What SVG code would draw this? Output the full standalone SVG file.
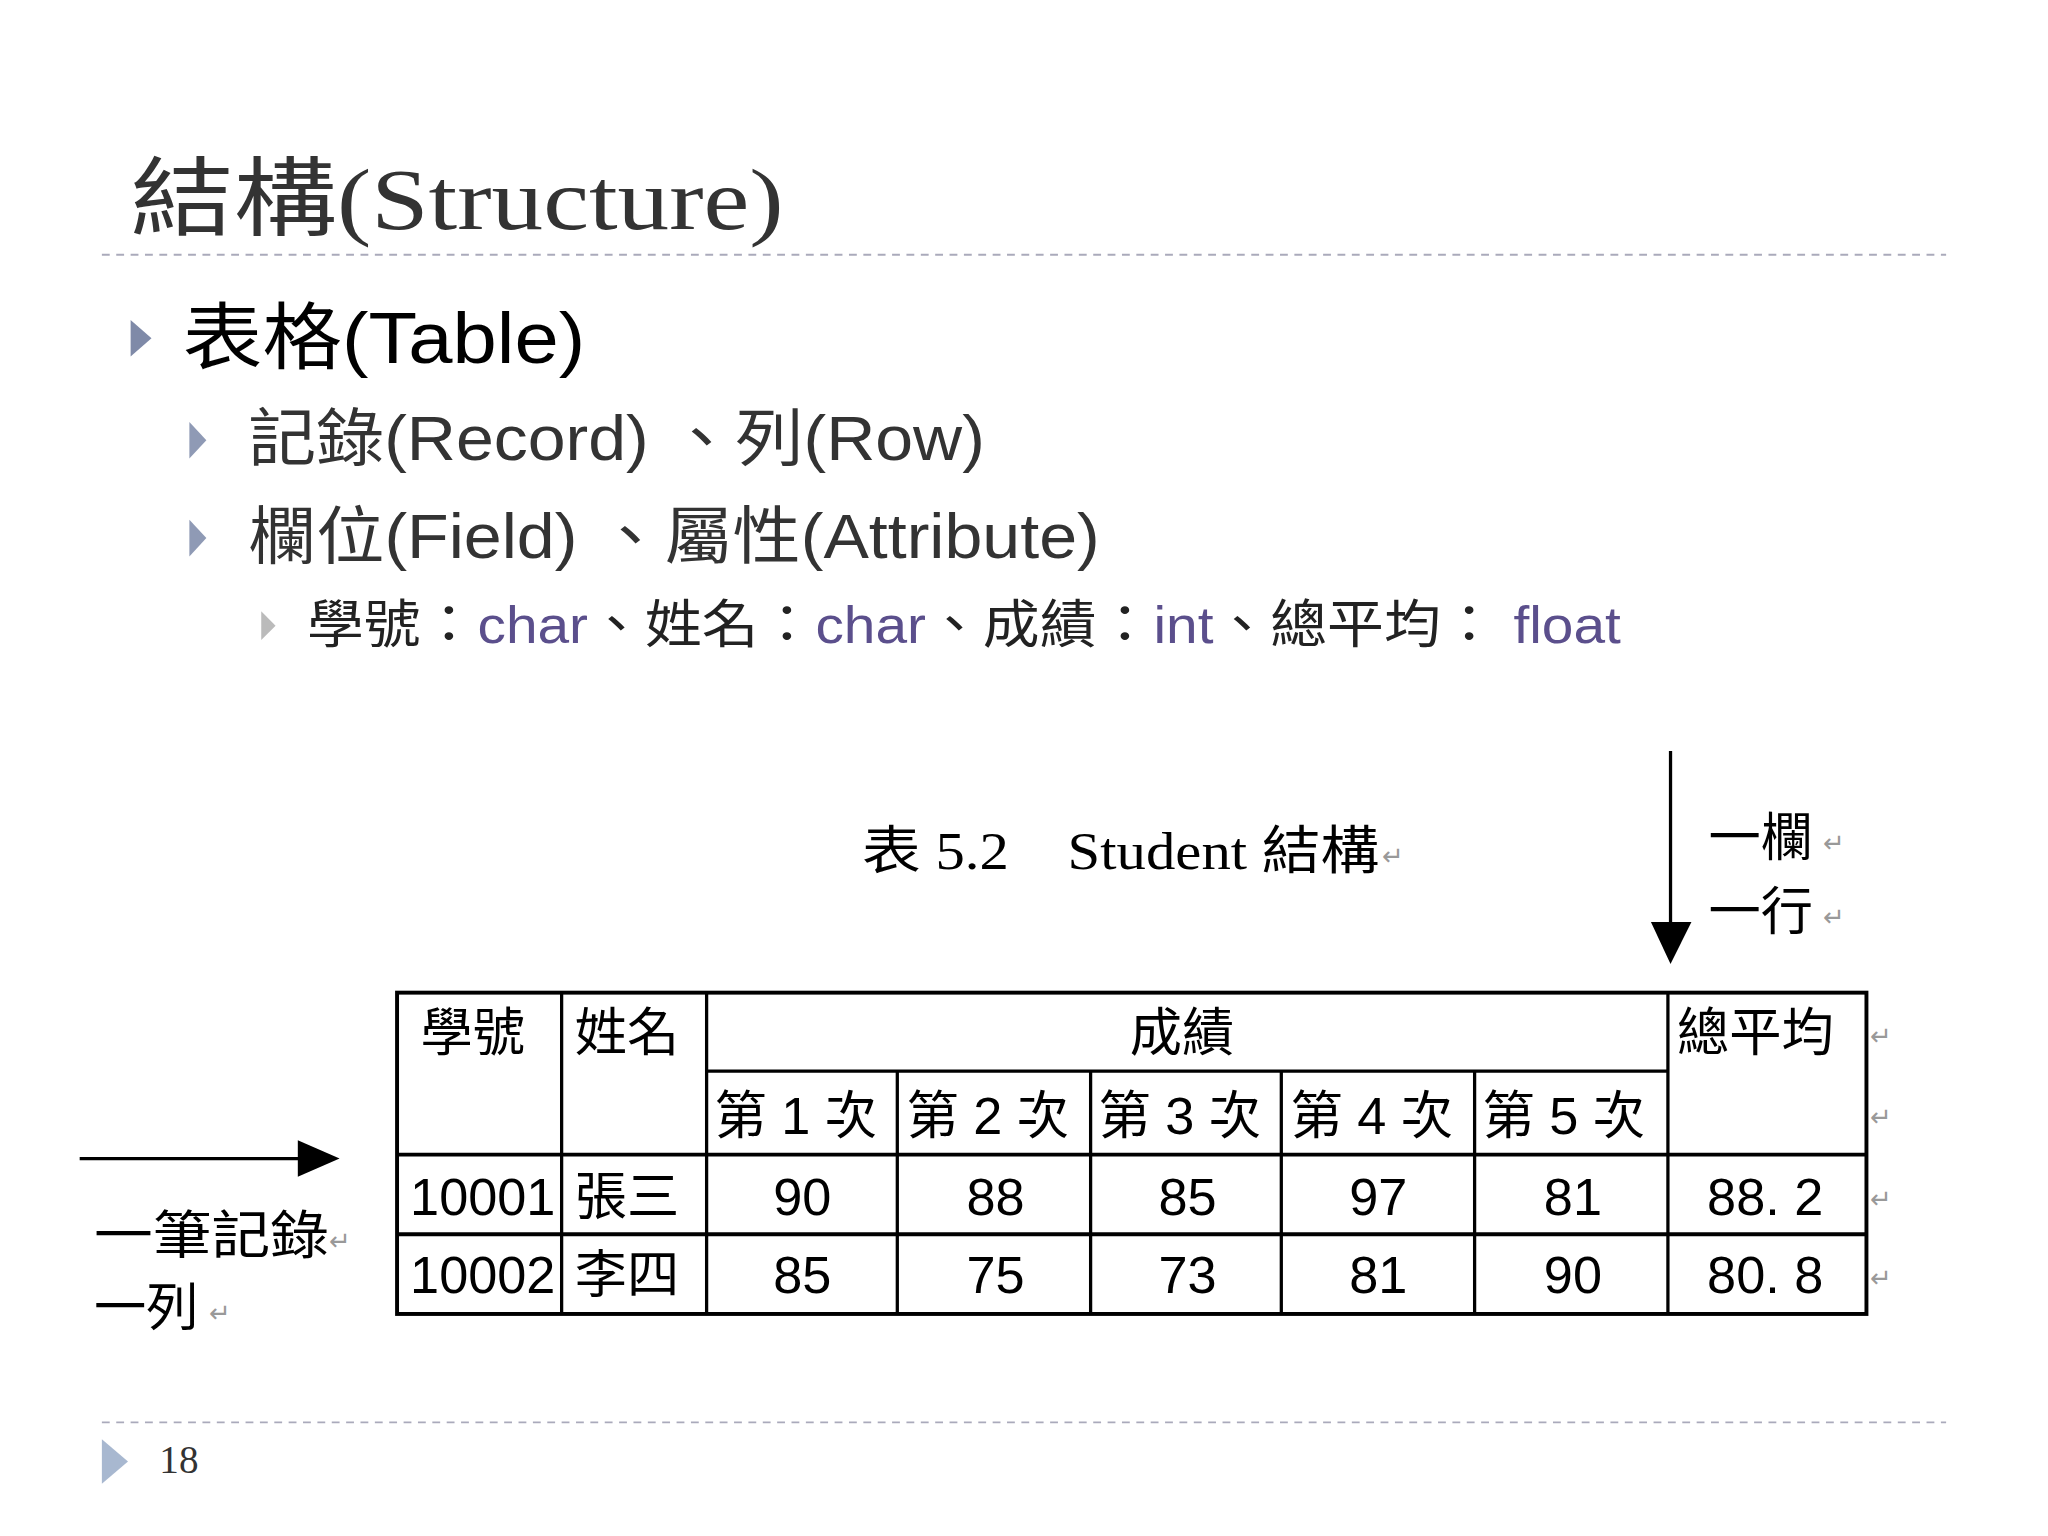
<svg xmlns="http://www.w3.org/2000/svg" width="2048" height="1536" viewBox="0 0 2048 1536">
<style>
.t{font-family:"Liberation Sans","Noto Sans CJK TC",sans-serif}
.s{font-family:"Liberation Serif","Noto Sans CJK TC",serif}
.c{font-family:"Liberation Sans","Noto Sans CJK TC",sans-serif;font-size:40px;fill:#000}
.r{font-family:"Liberation Sans",sans-serif;font-size:20px;fill:#999}
.p{fill:#5b4f8c}
.g line{stroke:#000;stroke-width:2.5}
</style>
<rect width="2048" height="1536" fill="#fff"/>
<g transform="scale(1.30612)">
<g id="title"><text class="s" x="100" y="175" font-size="66" fill="#333" textLength="500" lengthAdjust="spacingAndGlyphs">結構(Structure)</text>
<line x1="78" y1="195" x2="1490" y2="195" stroke="#aab" stroke-width="1.5" stroke-dasharray="6,5"/></g>
<g id="bullets">
<polygon points="100,245 116,259 100,273" fill="#7f8aa8"/>
<text class="t" x="140" y="278" font-size="56" fill="#000" textLength="308" lengthAdjust="spacingAndGlyphs">表格(Table)</text>
<polygon points="145,323 158,337 145,351" fill="#8f9ab5"/>
<text class="t" x="190" y="352" font-size="48" fill="#333" textLength="564" lengthAdjust="spacingAndGlyphs">記錄(Record) 、列(Row)</text>
<polygon points="145,398 158,412 145,426" fill="#8f9ab5"/>
<text class="t" x="190" y="427" font-size="48" fill="#333" textLength="652" lengthAdjust="spacingAndGlyphs">欄位(Field) 、屬性(Attribute)</text>
<polygon points="200,468 211,479 200,490" fill="#bbb"/>
<text class="t" x="235" y="492" font-size="40" fill="#222" textLength="1006" lengthAdjust="spacingAndGlyphs">學號：<tspan class="p">char</tspan>、姓名：<tspan class="p">char</tspan>、成績：<tspan class="p">int</tspan>、總平均： <tspan class="p">float</tspan></text>
</g>
<g id="caption"><text class="s" x="660" y="665" font-size="40" fill="#000" textLength="396" lengthAdjust="spacingAndGlyphs">表 5.2　Student 結構</text><text class="r" x="1058" y="662">↵</text></g>
<g id="labels">
<text class="c" x="1308" y="655" font-size="42">一欄</text><text class="r" x="1396" y="652">↵</text>
<text class="c" x="1308" y="712" font-size="42">一行</text><text class="r" x="1396" y="709">↵</text>
<text class="c" x="72" y="960" font-size="44" textLength="180" lengthAdjust="spacingAndGlyphs">一筆記錄</text><text class="r" x="252" y="957">↵</text>
<text class="c" x="72" y="1015" font-size="44">一列</text><text class="r" x="160" y="1012">↵</text>
</g>
<g id="connectors">
<line x1="1279" y1="575" x2="1279" y2="710" stroke="#000" stroke-width="2.5"/>
<polygon points="1264,706 1295,706 1279,738" fill="#000"/>
<line x1="61" y1="887" x2="232" y2="887" stroke="#000" stroke-width="2.5"/>
<polygon points="228,873 260,887 228,901" fill="#000"/>
</g>
<g id="table" class="g">
<rect x="304" y="760" width="1125" height="246" fill="#fff" stroke="#000" stroke-width="3"/>
<line x1="430" y1="760" x2="430" y2="1006"/><line x1="541" y1="760" x2="541" y2="1006"/>
<line x1="1277" y1="760" x2="1277" y2="1006"/>
<line x1="541" y1="820" x2="1277" y2="820"/>
<line x1="687" y1="820" x2="687" y2="1006"/><line x1="835" y1="820" x2="835" y2="1006"/>
<line x1="981" y1="820" x2="981" y2="1006"/><line x1="1129" y1="820" x2="1129" y2="1006"/>
<line x1="304" y1="884" x2="1429" y2="884" style="stroke-width:3"/>
<line x1="304" y1="945" x2="1429" y2="945" style="stroke-width:3"/>
<text class="c" x="322" y="805">學號</text><text class="c" x="440" y="805">姓名</text>
<text class="c" x="865" y="805">成績</text><text class="c" x="1284" y="805">總平均</text>
<text class="c" x="547" y="868">第 1 次</text><text class="c" x="694" y="868">第 2 次</text>
<text class="c" x="841" y="868">第 3 次</text><text class="c" x="988" y="868">第 4 次</text>
<text class="c" x="1135" y="868">第 5 次</text>
<text class="c" x="314" y="930">10001</text><text class="c" x="440" y="930">張三</text>
<text class="c" x="592" y="930">90</text><text class="c" x="740" y="930">88</text><text class="c" x="887" y="930">85</text>
<text class="c" x="1033" y="930">97</text><text class="c" x="1182" y="930">81</text><text class="c" x="1307" y="930">88. 2</text>
<text class="c" x="314" y="990">10002</text><text class="c" x="440" y="990">李四</text>
<text class="c" x="592" y="990">85</text><text class="c" x="740" y="990">75</text><text class="c" x="887" y="990">73</text>
<text class="c" x="1033" y="990">81</text><text class="c" x="1182" y="990">90</text><text class="c" x="1307" y="990">80. 8</text>
<text class="r" x="1432" y="800">↵</text><text class="r" x="1432" y="862">↵</text>
<text class="r" x="1432" y="925">↵</text><text class="r" x="1432" y="985">↵</text>
</g>
<g id="footer">
<line x1="78" y1="1089" x2="1490" y2="1089" stroke="#aab" stroke-width="1.5" stroke-dasharray="6,5"/>
<polygon points="78,1102 98,1119 78,1136" fill="#a8b8d0"/>
<text class="s" x="122" y="1128" font-size="30" fill="#333">18</text>
</g>
</g>
</svg>
